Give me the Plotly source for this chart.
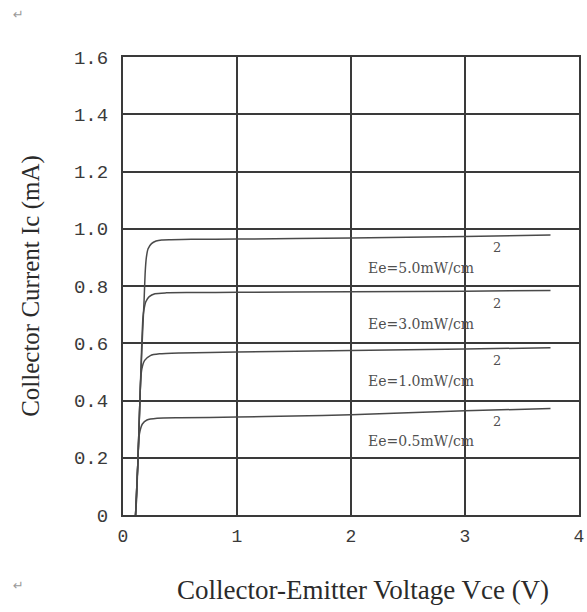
import plotly.graph_objects as go

# ---- data ----
v_05 = [0.11, 0.12, 0.13, 0.14, 0.15, 0.17, 0.21, 0.30, 0.50, 1.0, 1.5, 2.0, 2.5, 3.0, 3.75]
i_05 = [0.0, 0.06, 0.18, 0.27, 0.295, 0.318, 0.332, 0.338, 0.340, 0.342, 0.346, 0.350, 0.357, 0.364, 0.372]

v_10 = [0.11, 0.13, 0.145, 0.155, 0.165, 0.19, 0.24, 0.32, 0.5, 1.0, 2.0, 3.0, 3.75]
i_10 = [0.0, 0.18, 0.36, 0.47, 0.51, 0.54, 0.557, 0.563, 0.566, 0.569, 0.575, 0.580, 0.584]

v_30 = [0.11, 0.13, 0.15, 0.165, 0.175, 0.185, 0.20, 0.23, 0.28, 0.38, 0.6, 1.0, 2.0, 3.0, 3.75]
i_30 = [0.0, 0.18, 0.42, 0.60, 0.69, 0.72, 0.745, 0.763, 0.773, 0.776, 0.777, 0.778, 0.780, 0.782, 0.784]

v_50 = [0.11, 0.13, 0.15, 0.17, 0.185, 0.195, 0.205, 0.22, 0.25, 0.29, 0.34, 0.42, 0.6, 1.0, 2.0, 3.0, 3.75]
i_50 = [0.0, 0.18, 0.42, 0.62, 0.75, 0.85, 0.90, 0.93, 0.948, 0.957, 0.961, 0.962, 0.963, 0.964, 0.968, 0.973, 0.978]

series_labels = ["Ee=0.5mW/cm", "Ee=1.0mW/cm", "Ee=3.0mW/cm", "Ee=5.0mW/cm"]
series_v = [v_05, v_10, v_30, v_50]
series_i = [i_05, i_10, i_30, i_50]

x_tick_vals = [0, 1, 2, 3, 4]
x_tick_text = ["0", "1", "2", "3", "4"]
y_tick_vals = [0, 0.2, 0.4, 0.6, 0.8, 1.0, 1.2, 1.4, 1.6]
y_tick_text = ["0", "0.2", "0.4", "0.6", "0.8", "1.0", "1.2", "1.4", "1.6"]

x_title = "Collector-Emitter Voltage Vce (V)"
y_title = "Collector Current Ic (mA)"

# ---- styling ----
FW, FH = 587, 612
L, R, T, B = 123, 8, 57, 97
PW, PH = FW - L - R, FH - T - B

LINE_C = "#4a4a4a"
GRID_C = "#3a3a3a"
TEXT_C = "#3a3a3a"
SERIF = "Liberation Serif, Times New Roman, serif"
MONO = "Liberation Mono, Courier New, monospace"


def px_x(px):
    return (px - L) / PW


def px_y(py):
    return (FH - B - py) / PH


fig = go.Figure()
for name, v, i in zip(series_labels, series_v, series_i):
    fig.add_trace(go.Scatter(
        x=v, y=i, mode="lines", name=name,
        line=dict(color=LINE_C, width=1.5, shape="spline", smoothing=0.6),
        showlegend=False, hoverinfo="x+y",
    ))

# curve labels with the detached superscript "2"
for name, v, i in zip(series_labels, series_v, series_i):
    y_end = i[-1]
    fig.add_annotation(x=2.13, y=y_end - 0.115, xref="x", yref="y",
                       text=name, showarrow=False, xanchor="left", yanchor="middle",
                       font=dict(family="DejaVu Serif, serif", size=14, color="#505050"))
    fig.add_annotation(x=3.28, y=y_end - 0.045, xref="x", yref="y",
                       text="2", showarrow=False, xanchor="center", yanchor="middle",
                       font=dict(family="DejaVu Serif, serif", size=13, color="#505050"))

# x-axis title placed to match the source position
fig.add_annotation(x=px_x(363), y=px_y(590), xref="paper", yref="paper",
                   text=x_title, showarrow=False, xanchor="center", yanchor="middle",
                   font=dict(family=SERIF, size=27, color="#2a2a2a"))

# paragraph marks from the source document
for px, py in [(18, 15), (18, 585)]:
    fig.add_annotation(x=px_x(px), y=px_y(py), xref="paper", yref="paper",
                       text="↵", showarrow=False, xanchor="center", yanchor="middle",
                       font=dict(family="DejaVu Sans", size=13, color="#9a9a9a"))

fig.update_layout(
    width=FW, height=FH,
    margin=dict(l=L, r=R, t=T, b=B, pad=0, autoexpand=False),
    paper_bgcolor="white", plot_bgcolor="white",
    font=dict(family=SERIF, color=TEXT_C),
)

fig.update_xaxes(
    range=[0, 4], tickvals=x_tick_vals, ticktext=x_tick_text,
    showgrid=True, gridcolor=GRID_C, gridwidth=2,
    showline=True, linecolor=GRID_C, linewidth=2, mirror=True,
    zeroline=False, ticks="", ticklabelstandoff=3,
    tickfont=dict(family=MONO, size=18, color=TEXT_C),
)
fig.update_yaxes(
    range=[0, 1.6], tickvals=y_tick_vals, ticktext=y_tick_text,
    showgrid=True, gridcolor=GRID_C, gridwidth=2,
    showline=True, linecolor=GRID_C, linewidth=2, mirror=True,
    zeroline=False, ticks="", ticklabelstandoff=9,
    tickfont=dict(family=MONO, size=19, color=TEXT_C),
    title=dict(text=y_title, standoff=27,
               font=dict(family=SERIF, size=25, color="#2a2a2a")),
)

fig.write_html(
    "out.html",
    config={"displayModeBar": False},
    post_script="document.body.style.margin='0px';document.body.style.overflow='hidden';",
)
